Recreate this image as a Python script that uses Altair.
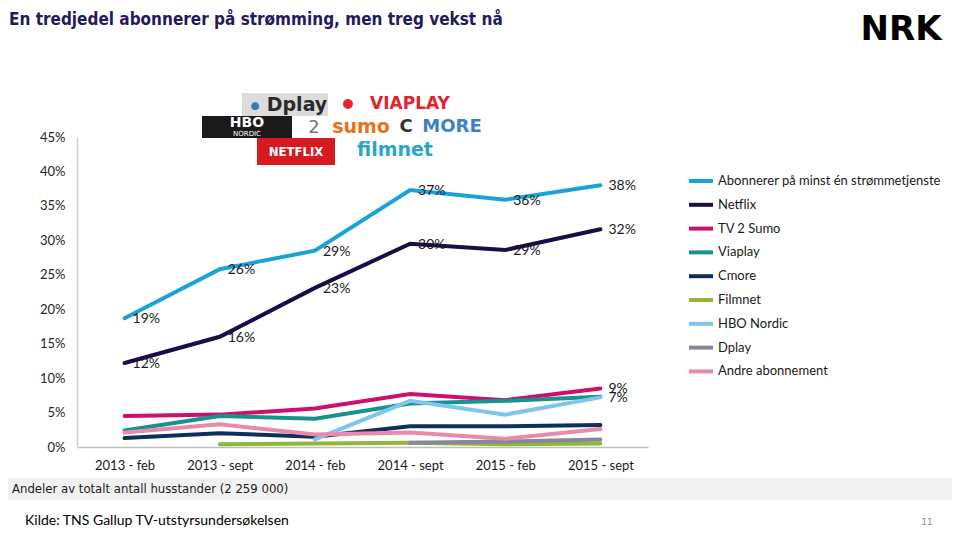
import altair as alt
import pandas as pd

periods = ["2013 - feb", "2013 - sept", "2014 - feb", "2014 - sept", "2015 - feb", "2015 - sept"]
series = ["Abonnerer på minst én strømmetjenste", "Netflix", "TV 2 Sumo", "Viaplay",
          "Cmore", "Filmnet", "HBO Nordic", "Dplay", "Andre abonnement"]
colors = ["#1AA3D6", "#1B0B46", "#CE106C", "#17928F", "#0E2F5C", "#8DB83A", "#7EC6EE", "#858899", "#E98AAC"]

abonnerer = [18.7, 25.8, 28.5, 37.3, 35.9, 38.0]
netflix = [12.2, 16.0, 23.1, 29.5, 28.6, 31.6]
sumo = [4.5, 4.7, 5.6, 7.7, 6.8, 8.5]
viaplay = [2.4, 4.5, 4.1, 6.3, 6.7, 7.3]
cmore = [1.3, 2.0, 1.5, 3.0, 3.0, 3.2]
filmnet = [None, 0.4, 0.5, 0.6, 0.4, 0.5]
hbo = [None, None, 1.1, 6.7, 4.7, 7.2]
dplay = [None, None, None, 0.6, 0.8, 1.1]
andre = [2.1, 3.3, 1.8, 2.1, 1.2, 2.6]
all_values = [abonnerer, netflix, sumo, viaplay, cmore, filmnet, hbo, dplay, andre]

abonnerer_lbl = ["19%", "26%", "29%", "37%", "36%", "38%"]
netflix_lbl = ["12%", "16%", "23%", "30%", "29%", "32%"]
sumo_lbl = [None, None, None, None, None, "9%"]
viaplay_lbl = [None, None, None, None, None, "7%"]
label_sets = {series[0]: abonnerer_lbl, series[1]: netflix_lbl, series[2]: sumo_lbl, series[3]: viaplay_lbl}

y_ticks = [0, 5, 10, 15, 20, 25, 30, 35, 40, 45]

rows = []
for s, vals in zip(series, all_values):
    for p, v in zip(periods, vals):
        if v is not None:
            rows.append({"series": s, "period": p, "value": v})
df = pd.DataFrame(rows)

lrows = []
for s, lbls in label_sets.items():
    vals = all_values[series.index(s)]
    for p, v, l in zip(periods, vals, lbls):
        if l is not None:
            lrows.append({"series": s, "period": p, "value": v, "label": l})
ldf = pd.DataFrame(lrows)

BODY = "Lato"
NARROW = "Liberation Sans Narrow, DejaVu Sans Condensed, Liberation Sans, sans-serif"

x_axis = alt.Axis(title=None, labelAngle=0, ticks=False, tickSize=0, domainColor="#BFBFBF",
                  domainWidth=1.5, labelPadding=12, labelFont=BODY, labelFontSize=13,
                  labelColor="#1a1a1a", grid=False)
y_axis = alt.Axis(title=None, values=y_ticks, labelExpr="datum.value + '%'",
                  ticks=False, tickSize=0, domainColor="#D0D0D0", domainWidth=1.5,
                  labelPadding=12, labelFont=BODY, labelFontSize=13, labelColor="#262626",
                  labelOverlap=False, grid=False)
x_scale = alt.Scale(type="point", padding=0.5)
y_scale = alt.Scale(domain=[0, 45], nice=False, zero=True)

lines = alt.Chart(df).mark_line(strokeWidth=4, strokeCap="round").encode(
    x=alt.X("period:N", sort=periods, scale=x_scale, axis=x_axis),
    y=alt.Y("value:Q", scale=y_scale, axis=y_axis),
    color=alt.Color("series:N", scale=alt.Scale(domain=series, range=colors),
                    legend=alt.Legend(title=None, orient="none", legendX=610, legendY=30,
                                      symbolType="stroke", symbolSize=576, symbolStrokeWidth=4,
                                      labelFont=BODY, labelFontSize=13, labelColor="#1a1a1a",
                                      labelLimit=0, labelOffset=3, rowPadding=1.8, padding=0)),
)

labels = alt.Chart(ldf).mark_text(align="left", baseline="middle", dx=8, dy=1,
                                   font=BODY, fontSize=14, color="#1a1a1a").encode(
    x=alt.X("period:N", sort=periods, scale=x_scale, axis=x_axis),
    y=alt.Y("value:Q", scale=y_scale, axis=y_axis),
    text="label:N")

one = pd.DataFrame({"k": [0]})


def txt(text, x, y, size, color, font=BODY, weight="normal", align="center"):
    return alt.Chart(one).mark_text(text=text, font=font, fontSize=size, color=color,
                                    fontWeight=weight, align=align, baseline="middle").encode(
        x=alt.value(x), y=alt.value(y))


def box(x1, x2, y1, y2, color):
    return alt.Chart(one).mark_rect(color=color).encode(
        x=alt.value(x1), x2=alt.value(x2), y=alt.value(y1), y2=alt.value(y2))


deco = [
    # title and logo
    txt("En tredjedel abonnerer på strømming, men treg vekst nå", -68, -117, 17, "#231B5B",
        font=NARROW, weight="bold", align="left"),
    txt("NRK", 824, -107, 34, "#000000", font="DejaVu Sans", weight="bold"),
    # service logos
    box(165, 251, -44, -21, "#DCDCDC"),
    txt("●", 178, -31, 16, "#2F7DB5"),
    txt("Dplay", 220, -32, 19, "#2a2a2a", font="DejaVu Sans", weight="bold"),
    txt("●", 271, -33, 20, "#E2242F"),
    txt("VIAPLAY", 333, -33, 17, "#E2242F", font="DejaVu Sans", weight="bold"),
    box(125, 215, -21, 1, "#1A1A1A"),
    txt("HBO", 170, -14, 14, "#FFFFFF", font="DejaVu Sans", weight="bold"),
    txt("NORDIC", 170, -3, 7, "#FFFFFF", font="DejaVu Sans"),
    txt("2", 237, -9, 18, "#777777", font="DejaVu Sans"),
    txt("sumo", 284, -10, 19, "#E8711A", font="DejaVu Sans", weight="bold"),
    txt("C", 329, -10, 18, "#333333", font="DejaVu Sans", weight="bold"),
    txt("MORE", 375, -10, 18, "#3A82C4", font="DejaVu Sans", weight="bold"),
    box(180, 258, 1, 28, "#D71920"),
    txt("NETFLIX", 219, 15, 13, "#FFFFFF", font=NARROW, weight="bold"),
    txt("filmnet", 318, 13, 19, "#2AA6C9", font="DejaVu Sans", weight="bold"),
    # footer
    box(-69, 875, 341, 363, "#F2F2F2"),
    txt("Andeler av totalt antall husstander (2 259 000)", -65, 352, 13, "#1a1a1a",
        font=NARROW, align="left"),
    txt("Kilde: TNS Gallup TV-utstyrsundersøkelsen", -52, 384, 14, "#000000", align="left"),
    txt("11", 850, 385, 9, "#8c8c8c", font="DejaVu Sans"),
]

chart = alt.layer(*deco, lines, labels).properties(
    width=571, height=310,
    padding={"left": 69, "top": 129, "right": 304, "bottom": 81},
    autosize=alt.AutoSizeParams(type="none"),
    background="white",
).configure_view(stroke=None)

chart.save("out.html", embed_options={"renderer": "svg", "actions": False})
